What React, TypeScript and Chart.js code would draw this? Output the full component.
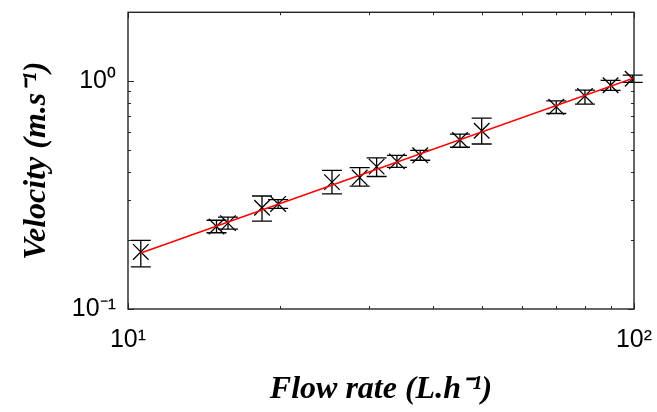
import React, { useEffect, useRef } from "react";
import { Chart, registerables } from "chart.js";

Chart.register(...registerables);

// Measured data (flow rate in L/h, velocity in m/s)
const flowRate = [10.6, 14.96, 15.76, 18.4, 19.8, 25.3, 28.7, 31.0, 34.0, 37.8, 45.3, 50.0, 70.2, 80.0, 89.9, 99.4];
const velocity = [0.178, 0.230, 0.238, 0.278, 0.289, 0.360, 0.377, 0.421, 0.444, 0.472, 0.551, 0.605, 0.770, 0.860, 0.958, 1.023];
const velocityLow = [0.153, 0.216, 0.224, 0.243, 0.276, 0.320, 0.346, 0.381, 0.418, 0.449, 0.512, 0.529, 0.720, 0.791, 0.910, 0.985];
const velocityHigh = [0.200, 0.245, 0.253, 0.313, 0.302, 0.405, 0.417, 0.460, 0.472, 0.496, 0.585, 0.687, 0.818, 0.911, 1.005, 1.060];

// Power-law fit line end points
const fitFlow = [10.6, 100];
const fitVelocity = [0.176, 1.03];

// Axis ticks
const xTicks = [10, 20, 30, 40, 50, 60, 70, 80, 90, 100];
const yTicks = [0.1, 0.2, 0.3, 0.4, 0.5, 0.6, 0.7, 0.8, 0.9, 1, 2];
const xMajor = [10, 100];
const yMajor = [0.1, 1];
const xTickLabels: Record<string, string> = { "10": "10¹", "100": "10²" };
const yTickLabels: Record<string, string> = { "0.1": "10⁻¹", "1": "10⁰" };

const xTitle = "Flow rate (L.h⁻¹)";
const yTitle = "Velocity (m.s⁻¹)";

const framePlugin = {
  id: "frame",
  afterDraw(chart: any) {
    const { ctx, chartArea, scales } = chart;
    const { left, right, top, bottom } = chartArea;
    const x = scales.x;
    const y = scales.y;
    ctx.save();
    ctx.strokeStyle = "#262626";
    ctx.lineWidth = 1;
    ctx.beginPath();
    xTicks.forEach((v) => {
      const px = Math.round(x.getPixelForValue(v)) + 0.5;
      const len = xMajor.includes(v) ? 6 : 3;
      ctx.moveTo(px, bottom);
      ctx.lineTo(px, bottom - len);
      ctx.moveTo(px, top);
      ctx.lineTo(px, top + len);
    });
    yTicks.forEach((v) => {
      const py = Math.round(y.getPixelForValue(v)) + 0.5;
      const len = yMajor.includes(v) ? 6 : 3;
      ctx.moveTo(left, py);
      ctx.lineTo(left + len, py);
      ctx.moveTo(right, py);
      ctx.lineTo(right - len, py);
    });
    ctx.stroke();
    ctx.lineWidth = 1.4;
    ctx.strokeRect(left, top, right - left, bottom - top);
    ctx.restore();
  },
};

const errorBarPlugin = {
  id: "errorBars",
  afterDatasetDraw(chart: any, args: any) {
    if (args.index !== 1) return;
    const { ctx, scales } = chart;
    const x = scales.x;
    const y = scales.y;
    const cap = 10;
    ctx.save();
    ctx.strokeStyle = "#000000";
    ctx.lineWidth = 1.3;
    ctx.beginPath();
    flowRate.forEach((f, i) => {
      const px = x.getPixelForValue(f);
      const y1 = y.getPixelForValue(velocityLow[i]);
      const y2 = y.getPixelForValue(velocityHigh[i]);
      ctx.moveTo(px, y1);
      ctx.lineTo(px, y2);
      ctx.moveTo(px - cap, y1);
      ctx.lineTo(px + cap, y1);
      ctx.moveTo(px - cap, y2);
      ctx.lineTo(px + cap, y2);
    });
    ctx.stroke();
    ctx.restore();
  },
};

export default function App() {
  const canvasRef = useRef<HTMLCanvasElement | null>(null);

  useEffect(() => {
    document.body.style.margin = "0";
    const canvas = canvasRef.current;
    if (!canvas) return;
    const tickFont = { family: "'Liberation Sans', Arial, sans-serif", size: 25 };
    const titleFont = { family: "'Liberation Serif', 'Times New Roman', serif", size: 32, weight: "bold" as const, style: "italic" as const };

    const chart = new Chart(canvas, {
      type: "scatter",
      data: {
        datasets: [
          {
            label: "fit",
            data: fitFlow.map((v, i) => ({ x: v, y: fitVelocity[i] })),
            showLine: true,
            borderColor: "#ff0000",
            borderWidth: 1.6,
            pointRadius: 0,
            fill: false,
          },
          {
            label: "measured",
            data: flowRate.map((v, i) => ({ x: v, y: velocity[i] })),
            showLine: false,
            pointStyle: "crossRot",
            pointRadius: 11,
            borderColor: "#000000",
            backgroundColor: "#000000",
            borderWidth: 1.3,
          },
        ],
      },
      options: {
        animation: false,
        responsive: true,
        maintainAspectRatio: false,
        layout: { padding: { top: 12, right: 23, left: 0, bottom: 0 } },
        plugins: {
          legend: { display: false },
          tooltip: { enabled: false },
        },
        scales: {
          x: {
            type: "logarithmic",
            min: 10,
            max: 100,
            afterBuildTicks: (scale: any) => {
              scale.ticks = xTicks.map((v) => ({ value: v }));
            },
            afterFit: (scale: any) => {
              scale.height = 103;
              scale.paddingLeft = 0;
              scale.paddingRight = 0;
            },
            ticks: {
              autoSkip: false,
              maxRotation: 0,
              minRotation: 0,
              padding: 16,
              color: "#000000",
              font: tickFont,
              callback: (v: any) => xTickLabels[String(v)] ?? "",
            },
            grid: { display: false, drawTicks: false },
            border: { display: false },
            title: {
              display: true,
              text: xTitle,
              color: "#000000",
              font: titleFont,
              padding: { top: 0, bottom: 3 },
            },
          },
          y: {
            type: "logarithmic",
            min: 0.1,
            max: 2,
            afterBuildTicks: (scale: any) => {
              scale.ticks = yTicks.map((v) => ({ value: v }));
            },
            afterFit: (scale: any) => {
              scale.width = 128;
              scale.paddingTop = 0;
              scale.paddingBottom = 0;
            },
            ticks: {
              autoSkip: false,
              padding: 12,
              color: "#000000",
              font: tickFont,
              callback: (v: any) => yTickLabels[String(v)] ?? "",
            },
            grid: { display: false, drawTicks: false },
            border: { display: false },
            title: {
              display: true,
              text: yTitle,
              color: "#000000",
              font: titleFont,
              padding: { top: 18, bottom: 0 },
            },
          },
        },
      },
      plugins: [framePlugin, errorBarPlugin],
    } as any);

    return () => {
      chart.destroy();
    };
  }, []);

  return (
    <div style={{ position: "relative", width: 657, height: 412, background: "#ffffff" }}>
      <canvas ref={canvasRef} />
    </div>
  );
}
